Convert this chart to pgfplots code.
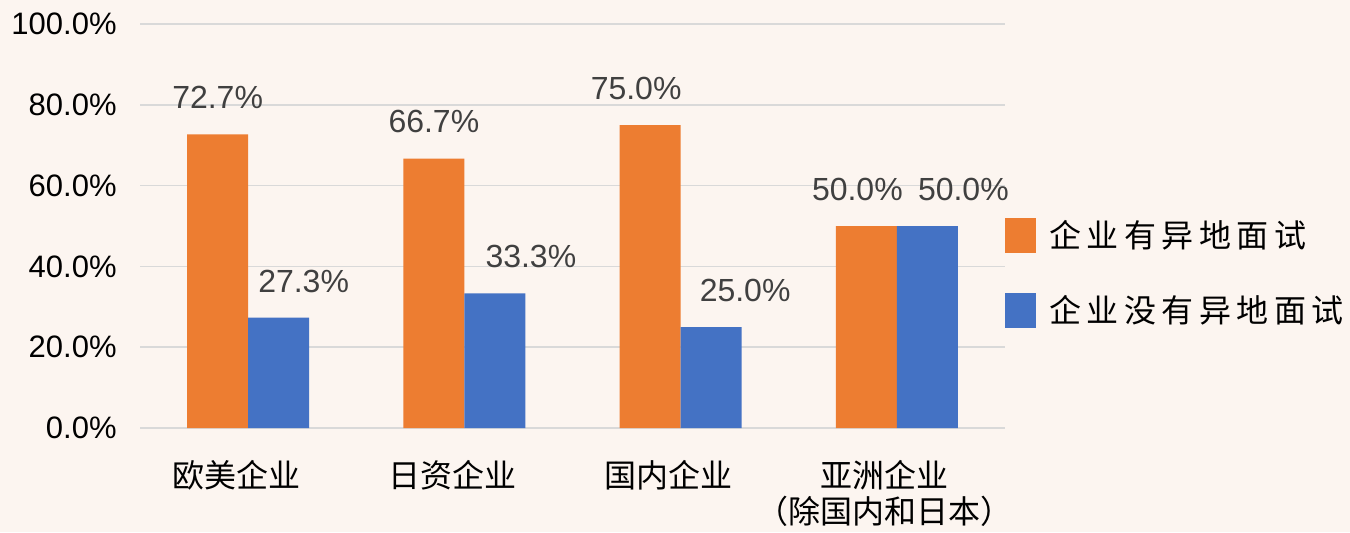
\documentclass[border=0pt]{standalone}
\usepackage{pgfplots}
\pgfplotsset{compat=1.18}
\usepackage{fontspec}
\setmainfont{Liberation Sans}
\newfontfamily\cjk{Noto Sans CJK SC}
\newfontfamily\cjkleg{Noto Sans CJK SC}[LetterSpace=17]
\definecolor{orangebar}{HTML}{ED7D31}
\definecolor{bluebar}{HTML}{4472C4}
\definecolor{lbl}{HTML}{404040}
\definecolor{bg}{HTML}{FCF5F0}
\definecolor{gridc}{HTML}{D9D9D9}
\begin{document}
\begin{tikzpicture}
\fill[bg] (0,0) rectangle (675pt,266pt);
\begin{axis}[
  scale only axis, width=432.5pt, height=202pt,
  at={(70pt,52pt)}, anchor=south west,
  ybar=0pt, bar width=30.5pt,
  xmin=-0.5, xmax=3.5, ymin=0, ymax=100,
  xtick={0,1,2,3},
  xticklabels={欧美企业,日资企业,国内企业,亚洲企业\\（除国内和日本）},
  xticklabel style={font=\cjk\fontsize{16pt}{18pt}\selectfont, align=center, anchor=north, inner sep=0pt, yshift=-16pt, xshift=-6pt, text=black},
  ytick={0,20,40,60,80,100},
  yticklabel={\pgfmathprintnumber[fixed,fixed zerofill,precision=1]{\tick}\%},
  /pgf/number format/assume math mode=true,
  yticklabel style={font=\fontsize{15.5pt}{18pt}\selectfont, anchor=east, inner sep=0pt, xshift=-11.5pt, text=black},
  major tick length=0pt,
  axis line style={draw=none},
  ymajorgrids, grid style={draw=gridc, line width=0.8pt},
  nodes near coords={\pgfmathprintnumber[fixed,fixed zerofill,precision=1]{\pgfplotspointmeta}\%},
  nodes near coords align={vertical},
  every node near coord/.append style={font=\fontsize{16pt}{18pt}\selectfont, text=lbl, inner sep=0pt, anchor=south, yshift=12.5pt},
  legend image code/.code={\fill[#1,draw=none] (0pt,-8.75pt) rectangle (15.5pt,8.75pt);},
  legend style={draw=none, fill=none, at={(0.999,0.525)}, anchor=north west,
    font=\cjkleg\fontsize{16pt}{18pt}\selectfont, inner sep=0pt, row sep=18.5pt,
    /tikz/every odd column/.append style={column sep=5pt}},
  legend cell align=left,
  clip=false,
]
\addplot[fill=orangebar, draw=none,
  coordinate style/.condition={x==2}{xshift=-7pt},
  coordinate style/.condition={x==3}{xshift=-4.5pt}] coordinates {(0,72.7) (1,66.7) (2,75.0) (3,50.0)};
\addplot[fill=bluebar, draw=none,
  coordinate style/.condition={x==0}{xshift=12.5pt},
  coordinate style/.condition={x==1}{xshift=18pt},
  coordinate style/.condition={x==2}{xshift=17pt},
  coordinate style/.condition={x==3}{xshift=18pt}] coordinates {(0,27.3) (1,33.3) (2,25.0) (3,50.0)};
\legend{企业有异地面试,企业没有异地面试}
\end{axis}
\pgfresetboundingbox
\useasboundingbox (0,0) rectangle (675pt,266pt);
\end{tikzpicture}
\end{document}
